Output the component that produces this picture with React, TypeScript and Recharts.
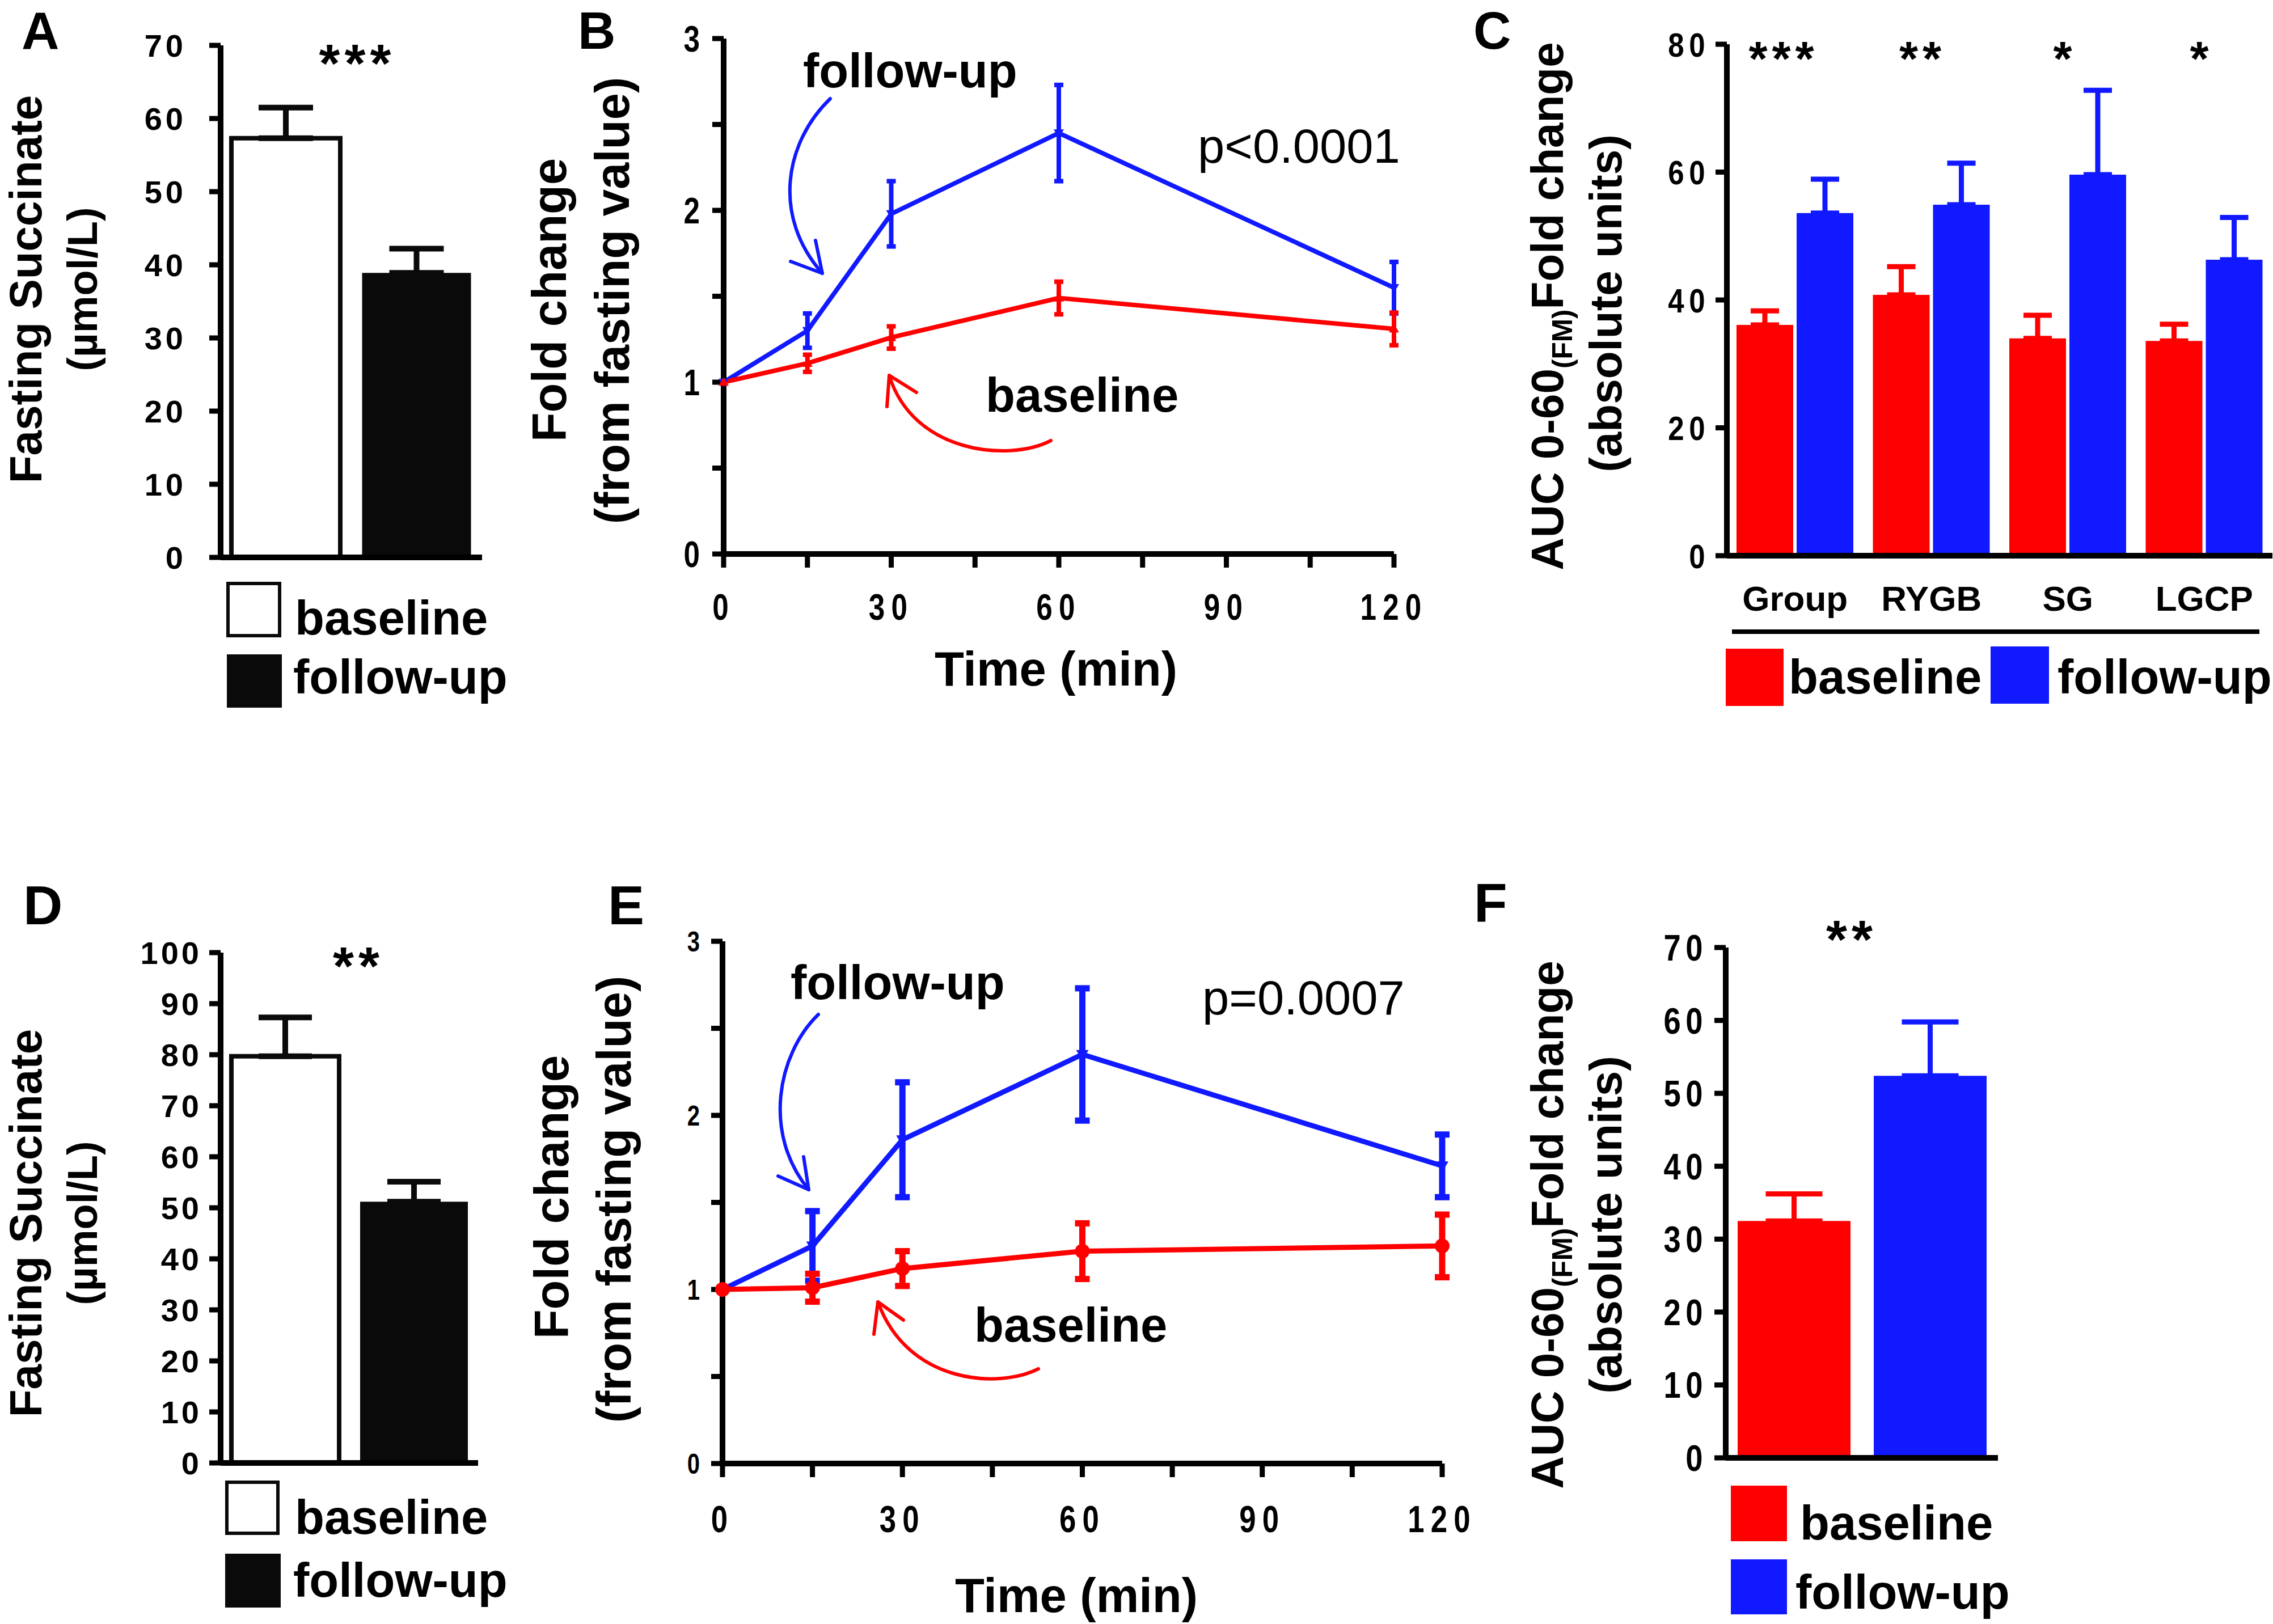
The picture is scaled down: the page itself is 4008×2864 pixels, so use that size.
import React from 'react';
import { BarChart, Bar, LineChart, Line, XAxis, YAxis, ErrorBar, Cell } from 'recharts';

const RED = '#ff0000';
const BLUE = '#1019ff';
const BLACK = '#0a0a0a';
const FONT = '"Liberation Sans", Arial, Helvetica, sans-serif';

// ---------- data ----------
const groupNames = ['baseline', 'follow-up'];

// Panel A
const aMeans = [57.3, 38.9];
const aErrs = [4.2, 3.3];
const aTicks = [0, 10, 20, 30, 40, 50, 60, 70];

// Panel D
const dMeans = [79.7, 51.2];
const dErrs = [7.6, 3.9];
const dTicks = [0, 10, 20, 30, 40, 50, 60, 70, 80, 90, 100];

// Panels B / E
const times = [0, 15, 30, 60, 120];
const timeTicks = [0, 15, 30, 45, 60, 75, 90, 105, 120];
const foldTicks = [0, 0.5, 1, 1.5, 2, 2.5, 3];
const bFollowUp = [1.0, 1.3, 1.98, 2.45, 1.55];
const bFollowUpErr = [0, 0.1, 0.19, 0.28, 0.15];
const bBaseline = [1.0, 1.11, 1.26, 1.49, 1.31];
const bBaselineErr = [0, 0.05, 0.065, 0.095, 0.095];
const eFollowUp = [1.0, 1.25, 1.86, 2.35, 1.71];
const eFollowUpErr = [0, 0.2, 0.33, 0.38, 0.18];
const eBaseline = [1.0, 1.01, 1.12, 1.22, 1.25];
const eBaselineErr = [0, 0.08, 0.1, 0.16, 0.18];

// Panel C
const surgeryGroups = ['Group', 'RYGB', 'SG', 'LGCP'];
const cBaseline = [36.1, 40.8, 34.0, 33.6];
const cBaselineErr = [2.2, 4.4, 3.6, 2.6];
const cFollowUp = [53.6, 54.9, 59.6, 46.3];
const cFollowUpErr = [5.3, 6.5, 13.2, 6.6];
const cTicks = [0, 20, 40, 60, 80];
const cStars = ['***', '**', '*', '*'];

// Panel F
const fMeans = [32.5, 52.4];
const fErrs = [3.7, 7.4];
const fTicks = [0, 10, 20, 30, 40, 50, 60, 70];

// ---------- tables ----------
const aData = groupNames.map((name, i) => ({ name, value: aMeans[i], err: [0, aErrs[i]] }));
const dData = groupNames.map((name, i) => ({ name, value: dMeans[i], err: [0, dErrs[i]] }));
const bData = times.map((t, i) => ({ t, fu: bFollowUp[i], fuErr: bFollowUpErr[i], bl: bBaseline[i], blErr: bBaselineErr[i] }));
const eData = times.map((t, i) => ({ t, fu: eFollowUp[i], fuErr: eFollowUpErr[i], bl: eBaseline[i], blErr: eBaselineErr[i] }));
const cData = surgeryGroups.map((name, i) => ({
  name,
  bl: cBaseline[i],
  blErr: [0, cBaselineErr[i]],
  fu: cFollowUp[i],
  fuErr: [0, cFollowUpErr[i]],
}));
const fData = groupNames.map((name, i) => ({
  name,
  value: fMeans[i],
  errRed: i === 0 ? [0, fErrs[i]] : 0,
  errBlue: i === 1 ? [0, fErrs[i]] : 0,
}));

// ---------- layout helpers ----------
const ML = 300;
const MT = 60;
const XH = 220;

function frame(x0: number, y0: number, x1: number, y1: number, mr = 20) {
  return {
    style: { position: 'absolute' as const, left: x0 - ML, top: y0 - MT },
    width: x1 - x0 + ML + mr,
    height: y1 - y0 + MT + XH,
    margin: { top: MT, right: mr, bottom: 0, left: 0 },
  };
}

const axisLine = { stroke: '#000', strokeWidth: 10 };
const tickLine = { stroke: '#000', strokeWidth: 9 };

function yTick(fs: number, dx: number, sx = 1, ls = 0, fmt?: (v: number) => string) {
  return (props: any) => {
    const { x, y, payload } = props;
    const label = fmt ? fmt(payload.value) : String(payload.value);
    return (
      <text
        transform={`translate(${x + dx},${y + fs * 0.36}) scale(${sx},1)`}
        textAnchor="end"
        fontFamily={FONT}
        fontWeight={700}
        fontSize={fs}
        letterSpacing={ls}
        fill="#000"
      >
        {label}
      </text>
    );
  };
}

function xTick(fs: number, dy: number, sx = 1, ls = 0, fmt?: (v: any) => string) {
  return (props: any) => {
    const { x, y, payload } = props;
    const label = fmt ? fmt(payload.value) : String(payload.value);
    return (
      <text
        transform={`translate(${x},${y + dy}) scale(${sx},1)`}
        textAnchor="middle"
        fontFamily={FONT}
        fontWeight={700}
        fontSize={fs}
        letterSpacing={ls}
        fill="#000"
      >
        {label}
      </text>
    );
  };
}

const intOnly = (v: number) => (Number.isInteger(v) ? String(v) : '');
const every30 = (v: number) => (v % 30 === 0 ? String(v) : '');

function triDown(size: number, color: string) {
  return (p: any) => {
    const { cx, cy, index } = p;
    if (cx == null || cy == null) return <g key={`d${index}`} />;
    return (
      <polygon
        key={`d${index}`}
        points={`${cx - size},${cy - size * 0.7} ${cx + size},${cy - size * 0.7} ${cx},${cy + size}`}
        fill={color}
      />
    );
  };
}
function triUp(size: number, color: string) {
  return (p: any) => {
    const { cx, cy, index } = p;
    if (cx == null || cy == null) return <g key={`u${index}`} />;
    return (
      <polygon
        key={`u${index}`}
        points={`${cx - size},${cy + size * 0.7} ${cx + size},${cy + size * 0.7} ${cx},${cy - size}`}
        fill={color}
      />
    );
  };
}
function circleDot(r: number, color: string) {
  return (p: any) => {
    const { cx, cy, index } = p;
    if (cx == null || cy == null) return <g key={`c${index}`} />;
    return <circle key={`c${index}`} cx={cx} cy={cy} r={r} fill={color} />;
  };
}

// ---------- overlay text helpers ----------
function T(props: { x: number; y: number; fs: number; anchor?: string; weight?: number; ls?: number; children: any }) {
  const { x, y, fs, anchor = 'start', weight = 700, ls = 0, children } = props;
  return (
    <text x={x} y={y} fontSize={fs} fontWeight={weight} textAnchor={anchor as any} letterSpacing={ls} fontFamily={FONT} fill="#000">
      {children}
    </text>
  );
}

function V(props: { cx: number; cy: number; fs: number; weight?: number; children: any }) {
  const { cx, cy, fs, weight = 700, children } = props;
  return (
    <text
      transform={`translate(${cx + 0.26 * fs},${cy}) rotate(-90)`}
      textAnchor="middle"
      fontSize={fs}
      fontWeight={weight}
      fontFamily={FONT}
      fill="#000"
    >
      {children}
    </text>
  );
}

function AucTitle(props: { cx: number; cy: number; fs: number }) {
  const { cx, cy, fs } = props;
  return (
    <V cx={cx} cy={cy} fs={fs}>
      AUC 0-60
      <tspan fontSize={fs * 0.62} dy={fs * 0.2}>(FM)</tspan>
      <tspan fontSize={fs} dy={-fs * 0.2}>Fold change</tspan>
    </V>
  );
}

function Arrow(props: { d: string; tip: [number, number]; a: [number, number]; b: [number, number]; color: string }) {
  const { d, tip, a, b, color } = props;
  return (
    <g fill="none" stroke={color} strokeWidth={6} strokeLinecap="round" strokeLinejoin="round">
      <path d={d} />
      <polyline points={`${a[0]},${a[1]} ${tip[0]},${tip[1]} ${b[0]},${b[1]}`} />
    </g>
  );
}

// ---------- panels ----------
function PanelA() {
  const f = frame(389, 80, 850, 983);
  return (
    <div style={f.style}>
      <BarChart width={f.width} height={f.height} data={aData} margin={f.margin} barSize={192}>
        <XAxis dataKey="name" tick={false} tickLine={false} axisLine={axisLine} height={XH} />
        <YAxis
          type="number"
          domain={[0, 70]}
          ticks={aTicks}
          interval={0}
          width={ML}
          tickSize={20}
          tickMargin={0}
          axisLine={axisLine}
          tickLine={tickLine}
          tick={yTick(56, -40, 1, 6)}
        />
        <Bar dataKey="value" isAnimationActive={false}>
          <Cell fill="#ffffff" stroke={BLACK} strokeWidth={8} />
          <Cell fill={BLACK} stroke={BLACK} strokeWidth={0} />
          <ErrorBar dataKey="err" direction="y" width={48} strokeWidth={10} stroke={BLACK} isAnimationActive={false} />
        </Bar>
      </BarChart>
    </div>
  );
}

function PanelD() {
  const f = frame(389, 1680, 843, 2580);
  return (
    <div style={f.style}>
      <BarChart width={f.width} height={f.height} data={dData} margin={f.margin} barSize={190}>
        <XAxis dataKey="name" tick={false} tickLine={false} axisLine={axisLine} height={XH} />
        <YAxis
          type="number"
          domain={[0, 100]}
          ticks={dTicks}
          interval={0}
          width={ML}
          tickSize={20}
          tickMargin={0}
          axisLine={axisLine}
          tickLine={tickLine}
          tick={yTick(56, -13, 1, 5)}
        />
        <Bar dataKey="value" isAnimationActive={false}>
          <Cell fill="#ffffff" stroke={BLACK} strokeWidth={8} />
          <Cell fill={BLACK} stroke={BLACK} strokeWidth={0} />
          <ErrorBar dataKey="err" direction="y" width={47} strokeWidth={10} stroke={BLACK} isAnimationActive={false} />
        </Bar>
      </BarChart>
    </div>
  );
}

function PanelB() {
  const f = frame(1276, 68, 2458, 977, 160);
  return (
    <div style={f.style}>
      <LineChart width={f.width} height={f.height} data={bData} margin={f.margin}>
        <XAxis
          type="number"
          dataKey="t"
          domain={[0, 120]}
          ticks={timeTicks}
          interval={0}
          height={XH}
          tickSize={24}
          tickMargin={0}
          axisLine={axisLine}
          tickLine={tickLine}
          tick={xTick(64, 92, 0.8, 14, every30)}
        />
        <YAxis
          type="number"
          domain={[0, 3]}
          ticks={foldTicks}
          interval={0}
          width={ML}
          tickSize={20}
          tickMargin={0}
          axisLine={axisLine}
          tickLine={tickLine}
          tick={yTick(64, -22, 0.8, 0, intOnly)}
        />
        <Line type="linear" dataKey="fu" stroke={BLUE} strokeWidth={8} dot={triDown(9, BLUE)} activeDot={false} isAnimationActive={false}>
          <ErrorBar dataKey="fuErr" direction="y" width={8} strokeWidth={8} stroke={BLUE} isAnimationActive={false} />
        </Line>
        <Line type="linear" dataKey="bl" stroke={RED} strokeWidth={8} dot={triUp(9, RED)} activeDot={false} isAnimationActive={false}>
          <ErrorBar dataKey="blErr" direction="y" width={8} strokeWidth={8} stroke={RED} isAnimationActive={false} />
        </Line>
      </LineChart>
    </div>
  );
}

function PanelE() {
  const f = frame(1274, 1660, 2543, 2581, 160);
  return (
    <div style={f.style}>
      <LineChart width={f.width} height={f.height} data={eData} margin={f.margin}>
        <XAxis
          type="number"
          dataKey="t"
          domain={[0, 120]}
          ticks={timeTicks}
          interval={0}
          height={XH}
          tickSize={24}
          tickMargin={0}
          axisLine={axisLine}
          tickLine={tickLine}
          tick={xTick(66, 97, 0.8, 14, every30)}
        />
        <YAxis
          type="number"
          domain={[0, 3]}
          ticks={foldTicks}
          interval={0}
          width={ML}
          tickSize={20}
          tickMargin={0}
          axisLine={axisLine}
          tickLine={tickLine}
          tick={yTick(50, -20, 0.8, 0, intOnly)}
        />
        <Line type="linear" dataKey="fu" stroke={BLUE} strokeWidth={9} dot={triDown(11, BLUE)} activeDot={false} isAnimationActive={false}>
          <ErrorBar dataKey="fuErr" direction="y" width={13} strokeWidth={11} stroke={BLUE} isAnimationActive={false} />
        </Line>
        <Line type="linear" dataKey="bl" stroke={RED} strokeWidth={9} dot={circleDot(13, RED)} activeDot={false} isAnimationActive={false}>
          <ErrorBar dataKey="blErr" direction="y" width={13} strokeWidth={11} stroke={RED} isAnimationActive={false} />
        </Line>
      </LineChart>
    </div>
  );
}

function PanelC() {
  const f = frame(3045, 78, 4007, 980);
  return (
    <div style={f.style}>
      <BarChart width={f.width} height={f.height} data={cData} margin={f.margin} barSize={100} barGap={6}>
        <XAxis
          dataKey="name"
          interval={0}
          height={XH}
          tickSize={0}
          tickMargin={0}
          tickLine={false}
          axisLine={axisLine}
          tick={xTick(62, 97)}
        />
        <YAxis
          type="number"
          domain={[0, 80]}
          ticks={cTicks}
          interval={0}
          width={ML}
          tickSize={20}
          tickMargin={0}
          axisLine={axisLine}
          tickLine={tickLine}
          tick={yTick(60, -10, 0.85, 10)}
        />
        <Bar dataKey="bl" fill={RED} isAnimationActive={false}>
          <ErrorBar dataKey="blErr" direction="y" width={25} strokeWidth={9} stroke={RED} isAnimationActive={false} />
        </Bar>
        <Bar dataKey="fu" fill={BLUE} isAnimationActive={false}>
          <ErrorBar dataKey="fuErr" direction="y" width={25} strokeWidth={9} stroke={BLUE} isAnimationActive={false} />
        </Bar>
      </BarChart>
    </div>
  );
}

function PanelF() {
  const f = frame(3043, 1671, 3523, 2571);
  return (
    <div style={f.style}>
      <BarChart width={f.width} height={f.height} data={fData} margin={f.margin} barSize={199}>
        <XAxis dataKey="name" tick={false} tickLine={false} axisLine={axisLine} height={XH} />
        <YAxis
          type="number"
          domain={[0, 70]}
          ticks={fTicks}
          interval={0}
          width={ML}
          tickSize={20}
          tickMargin={0}
          axisLine={axisLine}
          tickLine={tickLine}
          tick={yTick(64, -12, 0.85, 10)}
        />
        <Bar dataKey="value" isAnimationActive={false}>
          <Cell fill={RED} />
          <Cell fill={BLUE} />
          <ErrorBar dataKey="errRed" direction="y" width={50} strokeWidth={9} stroke={RED} isAnimationActive={false} />
          <ErrorBar dataKey="errBlue" direction="y" width={50} strokeWidth={9} stroke={BLUE} isAnimationActive={false} />
        </Bar>
      </BarChart>
    </div>
  );
}

function Overlay() {
  return (
    <svg width={4008} height={2864} style={{ position: 'absolute', left: 0, top: 0, pointerEvents: 'none' }}>
      {/* panel letters */}
      <T x={38} y={86} fs={92}>A</T>
      <T x={1019} y={86} fs={92}>B</T>
      <T x={2598} y={86} fs={92}>C</T>
      <T x={41} y={1630} fs={96}>D</T>
      <T x={1072} y={1630} fs={96}>E</T>
      <T x={2599} y={1625} fs={96}>F</T>

      {/* Panel A */}
      <V cx={52} cy={510} fs={80}>Fasting Succinate</V>
      <V cx={152} cy={510} fs={74}>(µmol/L)</V>
      <T x={630} y={144} fs={95} anchor="middle" ls={8}>***</T>
      <rect x={402} y={1029} width={91} height={92} fill="#fff" stroke={BLACK} strokeWidth={6} />
      <T x={520} y={1119} fs={85}>baseline</T>
      <rect x={400} y={1154} width={97} height={94} fill={BLACK} />
      <T x={517} y={1223} fs={85}>follow-up</T>

      {/* Panel D */}
      <V cx={52} cy={2157} fs={80}>Fasting Succinate</V>
      <V cx={152} cy={2157} fs={74}>(µmol/L)</V>
      <T x={632} y={1736} fs={95} anchor="middle" ls={8}>**</T>
      <rect x={400} y={2614} width={90} height={90} fill="#fff" stroke={BLACK} strokeWidth={6} />
      <T x={520} y={2705} fs={85}>baseline</T>
      <rect x={397} y={2740} width={98} height={95} fill={BLACK} />
      <T x={517} y={2816} fs={85}>follow-up</T>

      {/* Panel B */}
      <V cx={976} cy={529} fs={85}>Fold change</V>
      <V cx={1087} cy={530} fs={85}>(from fasting value)</V>
      <T x={1862} y={1209} fs={85} anchor="middle">Time (min)</T>
      <T x={1416} y={154} fs={85}>follow-up</T>
      <T x={2112} y={287} fs={85} weight={400}>p&lt;0.0001</T>
      <T x={1738} y={726} fs={85}>baseline</T>
      <Arrow d="M1464,174 C1385,250 1360,380 1450,482" tip={[1450, 482]} a={[1394, 461]} b={[1438, 424]} color={BLUE} />
      <Arrow d="M1853,777 C1780,815 1610,800 1568,662" tip={[1568, 662]} a={[1564, 717]} b={[1616, 692]} color={RED} />

      {/* Panel E */}
      <V cx={980} cy={2111} fs={85}>Fold change</V>
      <V cx={1090} cy={2115} fs={85}>(from fasting value)</V>
      <T x={1898} y={2843} fs={85} anchor="middle">Time (min)</T>
      <T x={1394} y={1762} fs={85}>follow-up</T>
      <T x={2120} y={1789} fs={85} weight={400}>p=0.0007</T>
      <T x={1718} y={2366} fs={85}>baseline</T>
      <Arrow d="M1443,1789 C1370,1860 1345,2000 1426,2098" tip={[1426, 2098]} a={[1372, 2074]} b={[1417, 2040]} color={BLUE} />
      <Arrow d="M1831,2414 C1760,2450 1600,2440 1548,2296" tip={[1548, 2296]} a={[1541, 2353]} b={[1593, 2328]} color={RED} />

      {/* Panel C */}
      <AucTitle cx={2735} cy={540} fs={80} />
      <V cx={2838} cy={535} fs={80}>(absolute units)</V>
      {cStars.map((s, i) => (
        <T key={i} x={[3145, 3390, 3641, 3882][i]} y={133} fs={85} anchor="middle" ls={8}>
          {s}
        </T>
      ))}
      <line x1={3054} y1={1114} x2={3984} y2={1114} stroke="#000" strokeWidth={8} />
      <rect x={3043} y={1144} width={102} height={101} fill={RED} />
      <T x={3154} y={1223} fs={85}>baseline</T>
      <rect x={3510} y={1140} width={103} height={101} fill={BLUE} />
      <T x={3628} y={1223} fs={85}>follow-up</T>

      {/* Panel F */}
      <AucTitle cx={2735} cy={2160} fs={80} />
      <V cx={2838} cy={2160} fs={80}>(absolute units)</V>
      <T x={3265} y={1689} fs={95} anchor="middle" ls={8}>**</T>
      <rect x={3052} y={2620} width={99} height={98} fill={RED} />
      <T x={3174} y={2715} fs={85}>baseline</T>
      <rect x={3052} y={2750} width={99} height={97} fill={BLUE} />
      <T x={3166} y={2837} fs={85}>follow-up</T>
    </svg>
  );
}

export default function App() {
  return (
    <div
      style={{
        position: 'absolute',
        left: 0,
        top: 0,
        width: 4008,
        height: 2864,
        overflow: 'hidden',
        background: '#ffffff',
        fontFamily: FONT,
      }}
    >
      <PanelA />
      <PanelB />
      <PanelC />
      <PanelD />
      <PanelE />
      <PanelF />
      <Overlay />
    </div>
  );
}
